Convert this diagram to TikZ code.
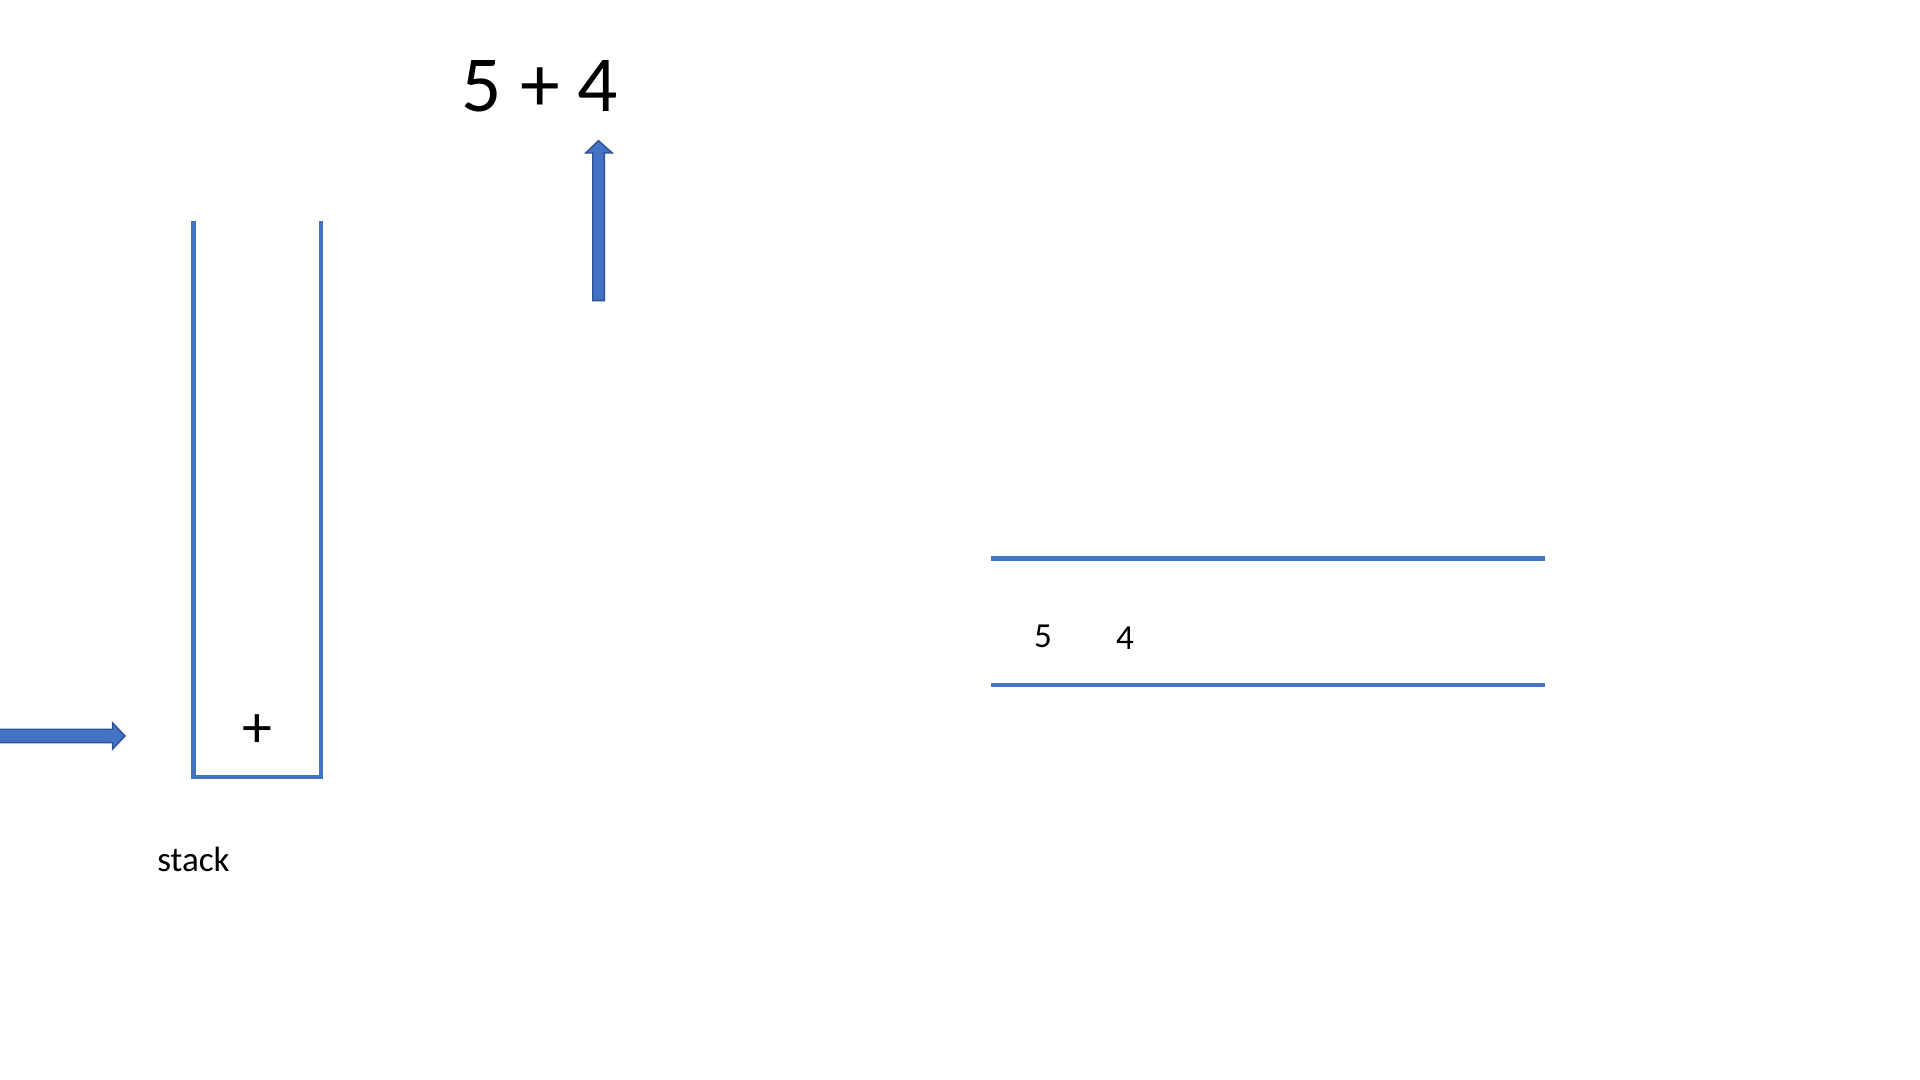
\documentclass[tikz,border=0pt]{standalone}
\usepackage{fontspec}
\setmainfont{Carlito}
\definecolor{officeblue}{HTML}{4472C4}
\definecolor{officeedge}{HTML}{2F528F}
\tikzset{
  wall/.style={draw=officeblue, line width=1.15pt},
  blockarrow/.style={fill=officeblue, draw=officeedge, line width=0.4pt, line join=miter},
  label/.style={inner sep=0pt, anchor=center}
}
\begin{document}
\begin{tikzpicture}[x=0.01cm, y=-0.01cm]
    \useasboundingbox (0,0) rectangle (1920,1080);

    % expression
    \node[label, font=\fontsize{22.6}{27}\selectfont] (expr) at (540,86) {5 + 4};

    % stack
    \coordinate (stl) at (193.5,221.5);
    \coordinate (str) at (320.8,221.5);
    \draw[wall] (stl) -- (193.5,777) -- (320.8,777) -- (str);
    \node[label, font=\fontsize{17}{20}\selectfont] (plus) at (257,731.5) {+};
    \node[label, font=\fontsize{10}{12}\selectfont] (stk) at (193.5,859) {stack};

    % output queue
    \draw[wall] (991,558.5) -- (1545,558.5);
    \draw[wall] (991,685) -- (1545,685);
    \node[label, font=\fontsize{10}{12}\selectfont] (five) at (1043,636) {5};
    \node[label, font=\fontsize{10}{12}\selectfont] (four) at (1125,638.5) {4};

    % arrows
    \draw[blockarrow] (592.7,300.7) -- (592.7,153) -- (585.7,153) -- (598.5,140.7)
        -- (612.3,153) -- (604.3,153) -- (604.3,300.7) -- cycle;
    \draw[blockarrow] (-2,729.3) -- (112.7,729.3) -- (112.7,723) -- (125,736)
        -- (112.7,749) -- (112.7,742.7) -- (-2,742.7) -- cycle;
\end{tikzpicture}
\end{document}
